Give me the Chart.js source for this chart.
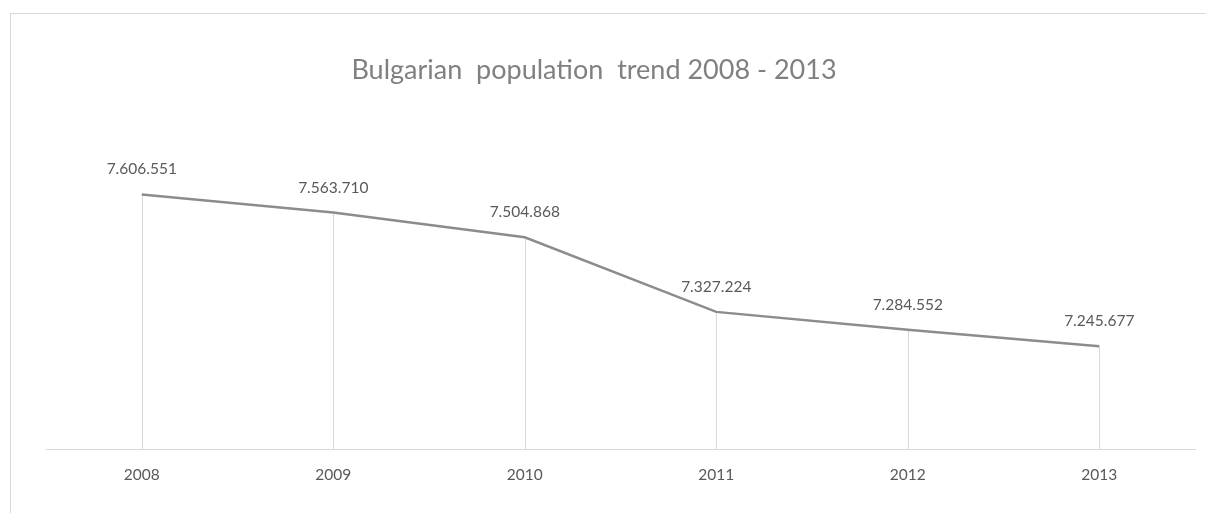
<!DOCTYPE html>
<html>
<head>
<meta charset="utf-8">
<title>Bulgarian population trend 2008 - 2013</title>
<script src="https://cdn.jsdelivr.net/npm/chart.js@4.4.1/dist/chart.umd.min.js"></script>
<style>
  html, body { margin: 0; padding: 0; background: #fff; overflow: hidden; }
  #frame {
    position: absolute; left: 10px; top: 13px;
    width: 1300px; height: 600px;
    border: 1px solid #d9d9d9;
  }
  #wrap { position: absolute; left: 0; top: 0; width: 1206px; height: 513px; }
</style>
</head>
<body>
<div id="frame"></div>
<div id="wrap"><canvas id="myChart"></canvas></div>
<script>
// population per year
var years = ['2008', '2009', '2010', '2011', '2012', '2013'];
var population = [7606551, 7563710, 7504868, 7327224, 7284552, 7245677];
var chartTitle = 'Bulgarian  population  trend 2008 - 2013';

// 7606551 -> "7.606.551"
function fmt(n) {
    return String(n).replace(/\B(?=(\d{3})+(?!\d))/g, '.');
}

// title sits a bit left of the plot centre, so draw it by hand
var titleText = {
    id: 'titleText',
    afterDraw: function(chart) {
        var ctx = chart.ctx;
        ctx.save();
        ctx.font = '27px Lato';
        ctx.fillStyle = '#808080';
        ctx.textAlign = 'center';
        ctx.textBaseline = 'alphabetic';
        ctx.fillText(chartTitle, 594, 79);
        ctx.restore();
    }
};

// thin vertical line from every point down to the x axis
var dropLines = {
    id: 'dropLines',
    beforeDatasetsDraw: function(chart) {
        var ctx = chart.ctx;
        var bottom = chart.chartArea.bottom;
        ctx.save();
        ctx.strokeStyle = '#d9d9d9';
        ctx.lineWidth = 1;
        chart.getDatasetMeta(0).data.forEach(function(pt) {
            var x = Math.round(pt.x) + 0.5;
            ctx.beginPath();
            ctx.moveTo(x, pt.y);
            ctx.lineTo(x, bottom);
            ctx.stroke();
        });
        ctx.restore();
    }
};

// value labels above the points
var valueLabels = {
    id: 'valueLabels',
    afterDatasetsDraw: function(chart) {
        var ctx = chart.ctx;
        var ds = chart.data.datasets[0];
        ctx.save();
        ctx.font = '15.5px Lato';
        ctx.fillStyle = '#595959';
        ctx.textAlign = 'center';
        ctx.textBaseline = 'middle';
        chart.getDatasetMeta(0).data.forEach(function(pt, i) {
            ctx.fillText(fmt(ds.data[i]), pt.x, pt.y - 25);
        });
        ctx.restore();
    }
};

var ctx = document.getElementById('myChart').getContext('2d');

var myChart = new Chart(ctx, {
    type: 'line',
    data: {
        labels: years,
        datasets: [{
            label: 'Population',
            data: population,
            borderColor: '#8c8c8c',
            borderWidth: 2.5,
            pointRadius: 0,
            pointHoverRadius: 0,
            tension: 0,
            fill: false
        }]
    },
    options: {
        responsive: true,
        maintainAspectRatio: false,
        animation: false,
        layout: {
            padding: { left: 46, right: 11, top: 113.2, bottom: 13 }
        },
        plugins: {
            legend: { display: false },
            tooltip: { enabled: false },
            title: { display: false }
        },
        scales: {
            x: {
                offset: true,
                grid: { display: false, drawTicks: false },
                border: { display: true, color: '#d9d9d9', width: 1 },
                ticks: {
                    color: '#595959',
                    padding: 16,
                    font: { family: 'Lato', size: 15.5 }
                }
            },
            y: {
                display: false,
                min: 7000000,
                max: 7800000
            }
        }
    },
    plugins: [dropLines, valueLabels, titleText]
});
</script>
</body>
</html>
